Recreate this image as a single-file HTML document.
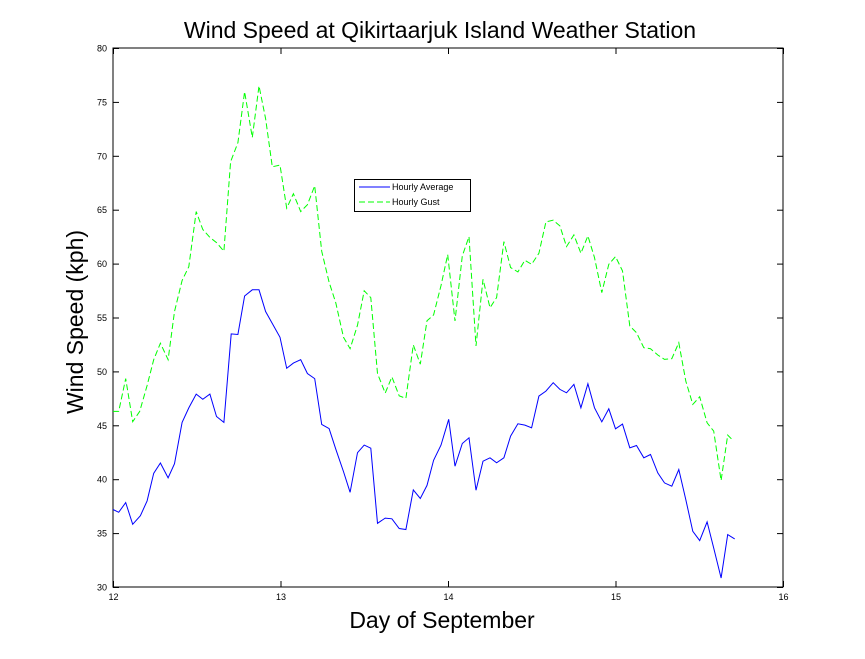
<!DOCTYPE html>
<html><head><style>body{margin:0;background:#fff}svg{display:block;font-family:"Liberation Sans",sans-serif}</style></head>
<body>
<svg id="s" width="865" height="659" xmlns="http://www.w3.org/2000/svg">
<rect width="865" height="659" fill="#fff"/>
<text x="440" y="38" font-size="23" text-anchor="middle">Wind Speed at Qikirtaarjuk Island Weather Station</text>
<text x="442" y="628" font-size="23" text-anchor="middle">Day of September</text>
<text transform="translate(83,322) rotate(-90)" font-size="23" text-anchor="middle">Wind Speed (kph)</text>
<rect x="113" y="48" width="670" height="539" fill="none" stroke="#000" stroke-width="1"/>
<g id="ticks" stroke="#000" stroke-width="1"></g>
<g id="lbl" font-size="9"></g>
<polyline id="g" fill="none" stroke="#00ff00" stroke-width="1" stroke-dasharray="6,3"/>
<polyline id="b" fill="none" stroke="#0000ff" stroke-width="1"/>
<rect x="354.5" y="179.5" width="116" height="32" fill="#fff" stroke="#000"/>
<line x1="359" y1="187" x2="390" y2="187" stroke="#0000ff"/>
<line x1="359" y1="202" x2="390" y2="202" stroke="#00ff00" stroke-dasharray="6,3"/>
<text x="392" y="190" font-size="9">Hourly Average</text>
<text x="392" y="205" font-size="9">Hourly Gust</text>
</svg>
<script>
var NS="http://www.w3.org/2000/svg";
function X(d){return 113+(d-12)*167.5} function Y(v){return 587-(v-30)*10.78}
var t=document.getElementById('ticks'),l=document.getElementById('lbl');
function ln(a,b,c,d){var e=document.createElementNS(NS,'line');e.setAttribute('x1',a);e.setAttribute('y1',b);e.setAttribute('x2',c);e.setAttribute('y2',d);t.appendChild(e)}
function tx(x,y,s,a){var e=document.createElementNS(NS,'text');e.setAttribute('x',x);e.setAttribute('y',y);e.setAttribute('text-anchor',a);e.textContent=s;l.appendChild(e)}
for(var d=12;d<=16;d++){var x=X(d)+.5;ln(x,587,x,581);ln(x,48,x,54);tx(x,600,d,'middle')}
for(var v=30;v<=80;v+=5){var y=Y(v)+.5;ln(113,y,119,y);ln(783,y,777,y);tx(107,y+3,v,'end')}
var b1=[38,1275,55,1283,76,1255,97,1318,120,1293,140,1250,160,1170,180,1140,203,1183,222,1142,245,1022,265,980,287,940,307,955,328,940,348,1005,370,1022,392,765,412,767,432,655,455,637,475,637,495,700,515,735,538,775,558,865,578,850,600,840,620,880,642,895,663,1028,685,1040,705,1100,728,1165,748,1225,770,1110,790,1088,810,1097,830,1315,853,1300,873,1302,895,1330,915,1333,937,1218,958,1243,978,1205,998,1132,1020,1088,1043,1013];
var b2=[43,950,65,882,85,865,106,1022,127,935,148,925,168,940,190,925,210,860,232,823,253,827,273,835,295,740,316,725,338,700,358,720,378,730,400,705,421,775,442,703,462,775,484,817,505,778,525,838,546,824,568,895,588,888,610,925,630,915,652,970,672,1000,694,1010,715,960,736,1050,757,1145,778,1173,800,1117,820,1195,842,1285,862,1155,883,1168];
var g1=[38,990,55,990,76,895,97,1020,118,990,140,915,160,840,180,792,203,840,222,700,245,610,265,570,287,410,307,462,328,485,348,500,370,525,390,265,412,210,432,62,455,195,475,45,495,140,515,280,538,275,558,400,578,358,600,410,620,390,642,335,663,525,685,615,705,675,728,775,748,808,770,740,790,640,810,660,830,880,853,937,873,890,895,945,915,952,937,797,958,853,978,727,998,710,1020,625,1040,535];
var g2=[43,515,65,320,85,262,106,590,127,390,148,475,168,445,190,277,210,355,232,368,253,333,273,345,295,312,316,218,338,213,358,230,378,292,400,257,421,312,442,260,462,325,484,430,505,345,525,322,546,365,568,530,588,550,610,595,630,598,652,617,672,630,694,628,715,580,736,695,757,765,778,742,800,820,820,845,842,993,862,857,873,868];
function pts(a1,a2){var p=[];for(var i=0;i<a1.length;i+=2){p.push(X(12+(a1[i]-38)/501.5).toFixed(1)+','+Y(30+(1500-a1[i+1])/31.3).toFixed(1))}
for(var i=0;i<a2.length;i+=2){p.push(X(14+(a2[i]-22)/503).toFixed(1)+','+Y(30+(1312-a2[i+1])/32.3).toFixed(1))}return p.join(' ')}
document.getElementById('b').setAttribute('points',pts(b1,b2));
document.getElementById('g').setAttribute('points',pts(g1,g2));
</script>
</body></html>
